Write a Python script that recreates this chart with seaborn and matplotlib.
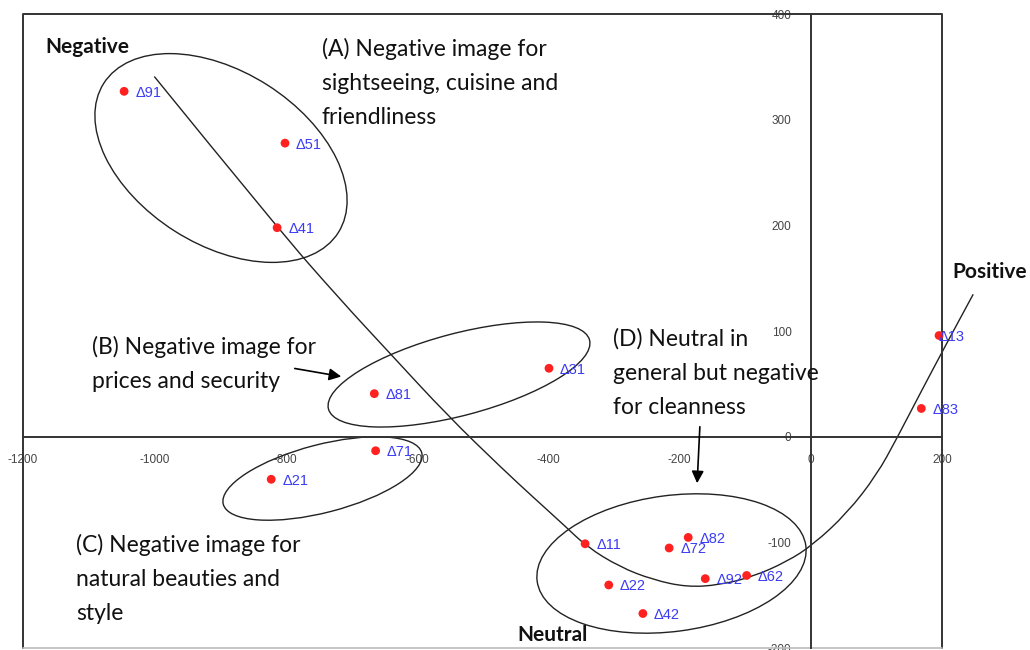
import numpy as np
import matplotlib
matplotlib.use("Agg")
import matplotlib.pyplot as plt
import seaborn as sns
from matplotlib.patches import Ellipse, PathPatch
from matplotlib.path import Path

sns.set_theme(style="white")
plt.rcParams['font.family'] = ['Liberation Sans', 'DejaVu Sans']
plt.rcParams['axes.unicode_minus'] = False

# points
labels = ["Δ91", "Δ51", "Δ41", "Δ81", "Δ31", "Δ71", "Δ21", "Δ11",
          "Δ22", "Δ42", "Δ72", "Δ82", "Δ92", "Δ62", "Δ13", "Δ83"]
x_vals = [-1046, -801, -813, -665, -399, -663, -822, -344,
          -308, -256, -216, -187, -161, -98, 195, 168]
y_vals = [327, 278, 198, 41, 65, -13, -40, -101,
          -140, -167, -105, -95, -134, -131, 96, 27]

# hand drawn trend curve (data coords)
curve_x = [-1000, -813, -717, -641, -553, -470, -423, -375, -341, -291, -241,
           -189, -139, -88, -37, 3, 55, 100, 131, 166, 207, 247]
curve_y = [341, 198, 130, 79, 20, -30, -57, -84, -104, -123, -135,
           -142, -140, -132, -118, -102, -72, -36, -1, 41, 89, 135]

x_ticks = [-1200, -1000, -800, -600, -400, -200, 0, 200]
y_ticks = [-200, -100, 0, 100, 200, 300, 400]

W, H = 1030, 650
fig = plt.figure(figsize=(W / 100, H / 100), dpi=100)
ax = fig.add_axes([0, 0, 1, 1])
ax.set_xlim(-1235, 333.5)
ax.set_ylim(-201.5, 413.4)

# axes crossing at zero
for s in ['top', 'right']:
    ax.spines[s].set_visible(False)
ax.spines['left'].set_position(('data', 0))
ax.spines['bottom'].set_position(('data', 0))
ax.spines['left'].set_bounds(-200, 400)
ax.spines['bottom'].set_bounds(-1200, 200)
for s in ['left', 'bottom']:
    ax.spines[s].set_color('#333333')
    ax.spines[s].set_linewidth(1.4)
ax.set_xticks(x_ticks)
ax.set_yticks(y_ticks)
ax.tick_params(direction='inout', length=8, width=1, color='#333333',
               labelsize=8.5, labelcolor='#444444')
ax.tick_params(axis='x', pad=8)
ax.tick_params(axis='y', pad=10)

# plot area frame
ax.plot([-1200, -1200, 200, 200], [-200, 400, 400, -200], color='#333333', lw=1.4)
ax.plot([-1200, 200], [-200, -200], color='#bbbbbb', lw=1.2)

# trend curve
pts = np.column_stack([curve_x, curve_y])
verts, codes = [pts[0]], [Path.MOVETO]
for i in range(1, len(pts) - 1):
    verts += [pts[i], (pts[i] + pts[i + 1]) / 2]
    codes += [Path.CURVE3, Path.CURVE3]
verts.append(pts[-1])
codes.append(Path.LINETO)
ax.add_patch(PathPatch(Path(verts, codes), fill=False, lw=1, color='#222222'))

# points and labels
sns.scatterplot(x=x_vals, y=y_vals, color='#ff2020', s=40, edgecolor='none',
                ax=ax, zorder=5)
for lab, xv, yv in zip(labels, x_vals, y_vals):
    dx = 0 if lab == "Δ13" else 8
    ax.annotate(lab, (xv, yv), xytext=(dx, -1), textcoords='offset points',
                va='center', ha='left', fontsize=10.5, color='#3b3bf5', zorder=6)

# group ellipses, sized in pixels
ellipses = [(221, 158, 278, 173, -32.5), (459, 374.5, 270, 82, 14.8),
            (322.5, 478.5, 205, 68, 14.5), (671.5, 563.5, 271, 136, 7.5)]
for cx, cy, ew, eh, ang in ellipses:
    ax.add_patch(Ellipse((cx / 100, (H - cy) / 100), ew / 100, eh / 100,
                         angle=ang, fill=False, lw=1, edgecolor='#222222',
                         transform=fig.dpi_scale_trans))

def fp(x, y):
    return (x, H - y)

note = dict(xycoords='figure pixels', fontsize=16.5, family=['Lato', 'DejaVu Sans'],
            color='#111111', va='center', ha='left', linespacing=1.75)
ax.annotate("(A) Negative image for\nsightseeing, cuisine and\nfriendliness",
            fp(322, 83), **note)
ax.annotate("(B) Negative image for\nprices and security", fp(92, 364), **note)
ax.annotate("(C) Negative image for\nnatural beauties and\nstyle", fp(76, 579), **note)
ax.annotate("(D) Neutral in\ngeneral but negative\nfor cleanness", fp(613, 373), **note)

bold = dict(xycoords='figure pixels', fontsize=15, fontweight='bold',
            family=['Lato', 'DejaVu Sans'], color='#111111', va='center', ha='left')
ax.annotate("Negative", fp(45, 47), **bold)
ax.annotate("Neutral", fp(517, 635), **bold)
ax.annotate("Positive", fp(952, 272), **bold)

arrow = dict(arrowstyle='-|>', color='black', lw=1.2, mutation_scale=18)
ax.annotate("", xy=fp(344, 377), xytext=fp(292, 368), xycoords='figure pixels',
            arrowprops=arrow)
ax.annotate("", xy=fp(697, 486), xytext=fp(700, 424), xycoords='figure pixels',
            arrowprops=arrow)

fig.savefig("out.png", dpi=100)
